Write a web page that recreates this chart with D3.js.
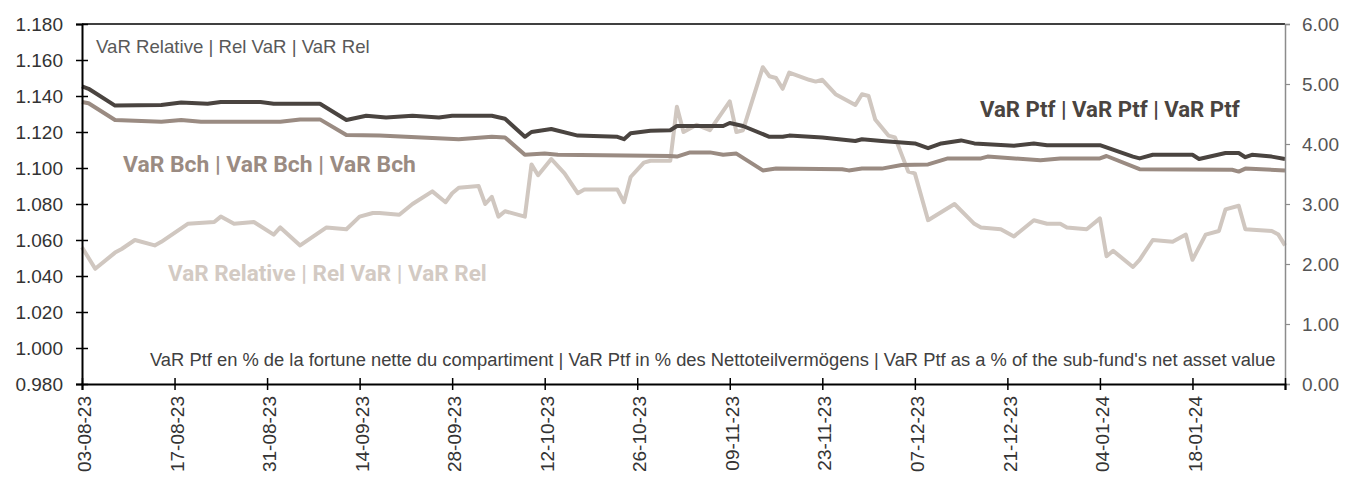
<!DOCTYPE html>
<html>
<head>
<meta charset="utf-8">
<script src="https://cdn.jsdelivr.net/npm/d3@7"></script>
<style>
  body { margin: 0; background: #fff; }
  svg { display: block; }
</style>
</head>
<body>
<div id="chart"></div>
<script>
// Series data (dates dd as YYYY-MM-DD)
const ptfDates = ["2023-08-03","2023-08-04","2023-08-08","2023-08-15","2023-08-18","2023-08-22","2023-08-24","2023-08-30","2023-09-01","2023-09-08","2023-09-12","2023-09-15","2023-09-18","2023-09-22","2023-09-26","2023-09-28","2023-10-04","2023-10-06","2023-10-09","2023-10-10","2023-10-13","2023-10-17","2023-10-23","2023-10-24","2023-10-25","2023-10-28","2023-10-31","2023-11-01","2023-11-08","2023-11-09","2023-11-11","2023-11-15","2023-11-17","2023-11-18","2023-11-23","2023-11-28","2023-11-29","2023-12-02","2023-12-07","2023-12-09","2023-12-11","2023-12-14","2023-12-16","2023-12-22","2023-12-25","2023-12-27","2024-01-04","2024-01-09","2024-01-10","2024-01-12","2024-01-18","2024-01-19","2024-01-23","2024-01-25","2024-01-26","2024-01-27","2024-01-30","2024-02-01"];
const ptfValues = [4.96,4.92,4.64,4.65,4.69,4.67,4.70,4.70,4.67,4.67,4.40,4.47,4.44,4.47,4.44,4.47,4.47,4.42,4.12,4.20,4.25,4.14,4.12,4.08,4.18,4.22,4.23,4.30,4.30,4.35,4.30,4.12,4.12,4.14,4.11,4.05,4.08,4.05,4.01,3.93,4.01,4.06,4.01,3.97,4.01,3.98,3.98,3.79,3.76,3.82,3.82,3.75,3.85,3.85,3.78,3.82,3.79,3.75];

const bchDates = ["2023-08-03","2023-08-04","2023-08-08","2023-08-15","2023-08-18","2023-08-21","2023-09-02","2023-09-05","2023-09-08","2023-09-12","2023-09-17","2023-09-29","2023-10-04","2023-10-06","2023-10-09","2023-10-12","2023-10-14","2023-10-31","2023-11-01","2023-11-03","2023-11-06","2023-11-08","2023-11-10","2023-11-14","2023-11-16","2023-11-26","2023-11-27","2023-11-29","2023-12-02","2023-12-05","2023-12-09","2023-12-12","2023-12-17","2023-12-18","2023-12-26","2023-12-29","2024-01-04","2024-01-05","2024-01-10","2024-01-24","2024-01-25","2024-01-26","2024-02-01"];
const bchValues = [4.70,4.68,4.40,4.37,4.40,4.37,4.37,4.41,4.41,4.15,4.14,4.08,4.12,4.11,3.82,3.84,3.82,3.80,3.79,3.86,3.86,3.82,3.84,3.56,3.59,3.58,3.56,3.59,3.59,3.65,3.66,3.76,3.76,3.79,3.73,3.76,3.76,3.80,3.58,3.57,3.54,3.59,3.56];

const relDates = ["2023-08-03","2023-08-05","2023-08-08","2023-08-09","2023-08-11","2023-08-14","2023-08-15","2023-08-19","2023-08-23","2023-08-24","2023-08-26","2023-08-29","2023-09-01","2023-09-02","2023-09-05","2023-09-09","2023-09-12","2023-09-14","2023-09-16","2023-09-17","2023-09-20","2023-09-22","2023-09-25","2023-09-27","2023-09-28","2023-09-29","2023-10-02","2023-10-03","2023-10-04","2023-10-05","2023-10-06","2023-10-09","2023-10-10","2023-10-11","2023-10-13","2023-10-15","2023-10-17","2023-10-18","2023-10-23","2023-10-24","2023-10-25","2023-10-27","2023-10-28","2023-10-31","2023-11-01","2023-11-02","2023-11-04","2023-11-06","2023-11-09","2023-11-10","2023-11-11","2023-11-14","2023-11-15","2023-11-16","2023-11-17","2023-11-18","2023-11-21","2023-11-22","2023-11-23","2023-11-25","2023-11-28","2023-11-29","2023-11-30","2023-12-01","2023-12-03","2023-12-04","2023-12-06","2023-12-07","2023-12-09","2023-12-13","2023-12-16","2023-12-17","2023-12-20","2023-12-22","2023-12-25","2023-12-27","2023-12-29","2023-12-30","2024-01-02","2024-01-04","2024-01-05","2024-01-06","2024-01-09","2024-01-10","2024-01-12","2024-01-15","2024-01-17","2024-01-18","2024-01-20","2024-01-22","2024-01-23","2024-01-25","2024-01-26","2024-01-30","2024-01-31","2024-02-01"];
const relValues = [1.056,1.044,1.053,1.055,1.060,1.057,1.059,1.069,1.070,1.073,1.069,1.070,1.063,1.067,1.057,1.067,1.066,1.073,1.075,1.075,1.074,1.080,1.087,1.081,1.086,1.089,1.090,1.080,1.084,1.073,1.076,1.073,1.102,1.096,1.105,1.097,1.086,1.088,1.088,1.081,1.095,1.103,1.104,1.104,1.134,1.120,1.124,1.121,1.137,1.120,1.121,1.156,1.151,1.150,1.144,1.153,1.149,1.148,1.149,1.141,1.135,1.141,1.140,1.127,1.118,1.117,1.098,1.097,1.071,1.080,1.069,1.067,1.066,1.062,1.071,1.069,1.069,1.067,1.066,1.072,1.051,1.054,1.045,1.049,1.060,1.059,1.063,1.049,1.063,1.065,1.077,1.079,1.066,1.065,1.063,1.057];

// Axis ticks
const xTickDates = ["2023-08-03","2023-08-17","2023-08-31","2023-09-14","2023-09-28","2023-10-12","2023-10-26","2023-11-09","2023-11-23","2023-12-07","2023-12-21","2024-01-04","2024-01-18","2024-02-01"];
const leftTicks = [0.98,1.00,1.02,1.04,1.06,1.08,1.10,1.12,1.14,1.16,1.18];
const rightTicks = [0,1,2,3,4,5,6];

const parse = d3.timeParse("%Y-%m-%d");
const fmtDate = d3.timeFormat("%d-%m-%y");

const width = 1347, height = 480;
const margin = { top: 24, right: 62, bottom: 96, left: 82 };
const x0 = margin.left, x1 = width - margin.right;
const y0 = height - margin.bottom, y1 = margin.top;

const svg = d3.select("#chart").append("svg")
  .attr("width", width)
  .attr("height", height);

const x = d3.scaleTime()
  .domain([parse("2023-08-03"), parse("2024-02-01")])
  .range([x0, x1]);
const yL = d3.scaleLinear().domain([0.98, 1.18]).range([y0, y1]);
const yR = d3.scaleLinear().domain([0, 6]).range([y0, y1]);

const fontAxis = "'Liberation Sans', Arial, sans-serif";

// top border
svg.append("line")
  .attr("x1", x0).attr("x2", x1)
  .attr("y1", y1).attr("y2", y1)
  .attr("stroke", "#000").attr("stroke-width", 1.5);

// lines
function series(dates, values) {
  return dates.map((d, i) => ({ date: parse(d), value: values[i] }));
}
const lineL = d3.line().x(d => x(d.date)).y(d => yL(d.value));
const lineR = d3.line().x(d => x(d.date)).y(d => yR(d.value));

svg.append("path")
  .datum(series(relDates, relValues))
  .attr("fill", "none").attr("stroke", "#d0c7c0").attr("stroke-width", 4)
  .attr("stroke-linejoin", "round")
  .attr("d", lineL);
svg.append("path")
  .datum(series(bchDates, bchValues))
  .attr("fill", "none").attr("stroke", "#9a8b82").attr("stroke-width", 4)
  .attr("stroke-linejoin", "round")
  .attr("d", lineR);
svg.append("path")
  .datum(series(ptfDates, ptfValues))
  .attr("fill", "none").attr("stroke", "#4a4440").attr("stroke-width", 4)
  .attr("stroke-linejoin", "round")
  .attr("d", lineR);

// Right axis (grey)
const gR = svg.append("g")
  .attr("transform", `translate(${x1},0)`)
  .call(d3.axisRight(yR).tickValues(rightTicks).tickFormat(d3.format(".2f")).tickSizeOuter(0).tickSize(5).tickPadding(12));
gR.select(".domain").attr("stroke", "#8c8c8c").attr("stroke-width", 1.5);
gR.selectAll(".tick line").attr("stroke", "#8c8c8c").attr("stroke-width", 1.2);
gR.selectAll(".tick text").attr("fill", "#555").style("font-family", fontAxis).style("font-size", "19px");

// Left axis
const gL = svg.append("g")
  .attr("transform", `translate(${x0},0)`)
  .call(d3.axisLeft(yL).tickValues(leftTicks).tickFormat(d3.format(".3f")).tickSizeOuter(0).tickSize(6).tickPadding(13));
gL.select(".domain").attr("stroke", "#000").attr("stroke-width", 2);
gL.selectAll(".tick line").attr("x1", 6).attr("stroke", "#000").attr("stroke-width", 1.5);
gL.selectAll(".tick text").attr("fill", "#333").style("font-family", fontAxis).style("font-size", "19px");

// Bottom axis
const gB = svg.append("g")
  .attr("transform", `translate(0,${y0})`)
  .call(d3.axisBottom(x).tickValues(xTickDates.map(parse))
    .tickFormat((d, i) => i === xTickDates.length - 1 ? "" : fmtDate(d))
    .tickSizeOuter(0).tickSize(6));
gB.select(".domain").attr("stroke", "#000").attr("stroke-width", 2);
gB.selectAll(".tick line").attr("y1", -6).attr("stroke", "#000").attr("stroke-width", 1.5);
gB.selectAll(".tick text")
  .attr("transform", "rotate(-90)")
  .attr("x", -12).attr("y", 2).attr("dy", "0.35em")
  .style("text-anchor", "end")
  .attr("fill", "#333")
  .style("font-family", fontAxis).style("font-size", "19px");

// Labels
function fitWidth(t, target) {
  const w = t.node().getComputedTextLength();
  const fs = parseFloat(t.attr("font-size"));
  t.attr("font-size", fs * target / w);
}
const labels = [
  { text: "VaR Relative | Rel VaR | VaR Rel", x: 96, y: 52.5, w: 274, color: "#595959", weight: "normal", font: fontAxis },
  { text: "VaR Bch | VaR Bch | VaR Bch", x: 123, y: 171.5, w: 293, color: "#9a8b82", weight: "bold", font: "Roboto, sans-serif" },
  { text: "VaR Relative | Rel VaR | VaR Rel", x: 168, y: 281, w: 319, color: "#d3cac3", weight: "bold", font: "Roboto, sans-serif" },
  { text: "VaR Ptf | VaR Ptf | VaR Ptf", x: 980, y: 117, w: 260, color: "#4a4440", weight: "bold", font: "Roboto, sans-serif" },
  { text: "VaR Ptf en % de la fortune nette du compartiment | VaR Ptf in % des Nettoteilvermögens | VaR Ptf as a % of the sub-fund's net asset value", x: 150, y: 366, w: 1126, color: "#404040", weight: "normal", font: fontAxis }
];
labels.forEach(l => {
  const t = svg.append("text")
    .attr("x", l.x).attr("y", l.y)
    .attr("font-size", 18)
    .attr("font-family", l.font)
    .attr("font-weight", l.weight)
    .attr("fill", l.color)
    .text(l.text);
  fitWidth(t, l.w);
});
</script>
</body>
</html>
